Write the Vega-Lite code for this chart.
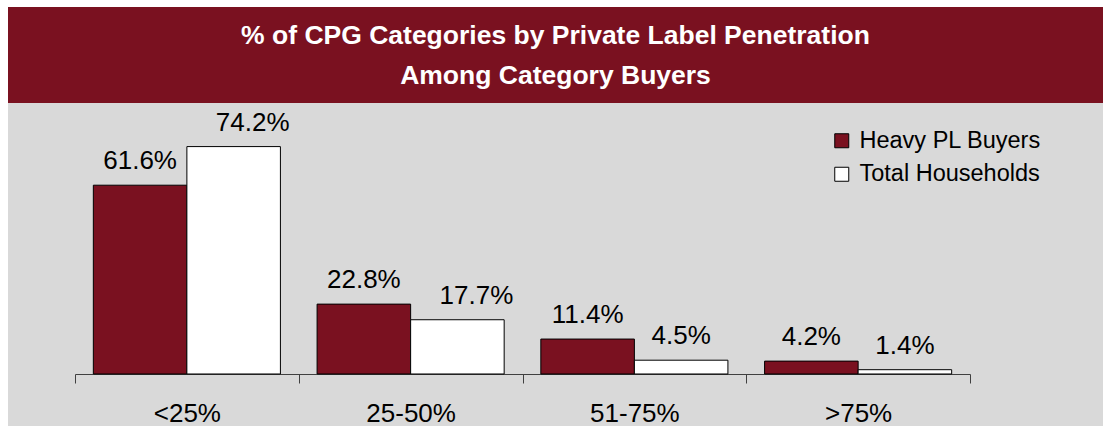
{
  "$schema": "https://vega.github.io/schema/vega-lite/v6.json",
  "background": "white",
  "padding": {"left": 8, "top": 7, "right": 0, "bottom": 0},
  "spacing": 0,
  "config": {"font": "Liberation Sans", "view": {"stroke": null}},
  "vconcat": [
    {
      "width": 1095,
      "height": 96,
      "view": {"fill": "#7A1120", "stroke": null},
      "data": {"values": [
        {"line": 1, "text": "% of CPG Categories by Private Label Penetration"},
        {"line": 2, "text": "Among Category Buyers"}
      ]},
      "mark": {"type": "text", "font": "Liberation Sans", "fontSize": 26.5, "fontWeight": "bold", "color": "white", "baseline": "middle", "align": "center", "dy": 1},
      "encoding": {
        "y": {"field": "line", "type": "ordinal", "axis": null, "scale": {"type": "point", "padding": 0.68}},
        "text": {"field": "text"}
      }
    },
    {
      "width": 1095,
      "height": 323,
      "view": {"fill": "#D9D9D9", "stroke": null},
      "data": {"values": [
        {"category": "<25%", "series": "Heavy PL Buyers", "value": 0.616},
        {"category": "<25%", "series": "Total Households", "value": 0.742},
        {"category": "25-50%", "series": "Heavy PL Buyers", "value": 0.228},
        {"category": "25-50%", "series": "Total Households", "value": 0.177},
        {"category": "51-75%", "series": "Heavy PL Buyers", "value": 0.114},
        {"category": "51-75%", "series": "Total Households", "value": 0.045},
        {"category": ">75%", "series": "Heavy PL Buyers", "value": 0.042},
        {"category": ">75%", "series": "Total Households", "value": 0.014}
      ]},
      "encoding": {
        "x": {
          "field": "category", "type": "nominal",
          "sort": ["<25%", "25-50%", "51-75%", ">75%"],
          "scale": {"range": [67, 962], "paddingInner": 0, "paddingOuter": 0},
          "title": null,
          "axis": {
            "orient": "bottom", "offset": -52, "domainColor": "#404040", "tickColor": "#404040",
            "tickSize": 9, "tickBand": "extent", "labelFontSize": 26, "labelFont": "Liberation Sans",
            "labelColor": "black", "labelBaseline": "alphabetic", "labelPadding": 38, "labelAngle": 0,
            "domainWidth": 1, "tickWidth": 1, "grid": false
          }
        },
        "xOffset": {
          "field": "series", "type": "nominal",
          "sort": ["Heavy PL Buyers", "Total Households"],
          "scale": {"paddingInner": 0, "paddingOuter": 0.196}
        },
        "y": {
          "field": "value", "type": "quantitative",
          "scale": {"domain": [-0.1697, 0.8842], "nice": false, "zero": false},
          "axis": null
        }
      },
      "layer": [
        {
          "mark": {"type": "bar", "stroke": "black", "strokeWidth": 1},
          "encoding": {
            "color": {
              "field": "series", "type": "nominal",
              "scale": {"domain": ["Heavy PL Buyers", "Total Households"], "range": ["#7A1120", "#FFFFFF"]},
              "legend": {
                "orient": "none", "legendX": 822, "legendY": 122, "title": null,
                "symbolType": "square", "symbolSize": 196, "symbolStrokeColor": "black", "symbolStrokeWidth": 1,
                "labelFontSize": 23.5, "labelFont": "Liberation Sans", "labelColor": "black", "labelLimit": 0,
                "rowPadding": 8.5, "padding": 0, "labelOffset": 6
              }
            }
          }
        },
        {
          "transform": [{"filter": "!(datum.series == 'Total Households' && datum.value > 0.15)"}],
          "mark": {"type": "text", "fontSize": 26, "font": "Liberation Sans", "baseline": "alphabetic", "dy": -16, "color": "black"},
          "encoding": {"text": {"field": "value", "type": "quantitative", "format": ".1%"}}
        },
        {
          "transform": [{"filter": "datum.series == 'Total Households' && datum.value > 0.15"}],
          "mark": {"type": "text", "fontSize": 26, "font": "Liberation Sans", "baseline": "alphabetic", "dy": -16, "dx": 19, "color": "black"},
          "encoding": {"text": {"field": "value", "type": "quantitative", "format": ".1%"}}
        }
      ]
    }
  ]
}
